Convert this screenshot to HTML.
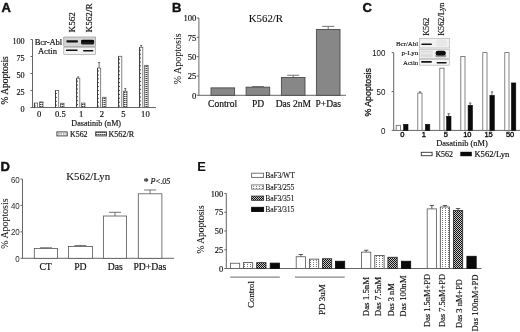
<!DOCTYPE html>
<html><head><meta charset="utf-8"><style>
html,body{margin:0;padding:0;background:#fff;}
body{width:520px;height:332px;overflow:hidden;font-family:"Liberation Serif",serif;}
svg{display:block;will-change:transform;filter:blur(0.3px);}
</style></head><body>
<svg width="520" height="332" viewBox="0 0 520 332">
<defs>
<pattern id="grid" width="2" height="2" patternUnits="userSpaceOnUse"><rect width="2" height="2" fill="#f4f4f4"/><rect width="2" height="1" fill="#999"/><rect width="1" height="1" fill="#444"/></pattern>
<pattern id="dots" width="3" height="2" patternUnits="userSpaceOnUse"><rect width="3" height="2" fill="#fff"/><rect x="1" width="1" height="1" fill="#777"/></pattern>
<pattern id="check" width="2" height="2" patternUnits="userSpaceOnUse"><rect width="2" height="2" fill="#c8c8c8"/><rect width="1" height="1" fill="#111"/><rect x="1" y="1" width="1" height="1" fill="#111"/></pattern>
</defs>
<rect width="520" height="332" fill="#fff"/>
<text x="1.4" y="11.8" font-family="Liberation Sans" font-size="13" text-anchor="start" font-weight="bold" font-style="normal" fill="#111" stroke="#111" stroke-width="0.45">A</text>
<line x1="32.5" y1="39.5" x2="32.5" y2="108.0" stroke="#666" stroke-width="1"/>
<line x1="32.5" y1="107.5" x2="156" y2="107.5" stroke="#666" stroke-width="1"/>
<line x1="30.5" y1="107.5" x2="32.5" y2="107.5" stroke="#666" stroke-width="1"/>
<text x="24.7" y="111.7" font-family="Liberation Serif" font-size="8.2" text-anchor="end" font-weight="normal" font-style="normal" fill="#111" stroke="#111" stroke-width="0.164">0</text>
<line x1="30.5" y1="90.5" x2="32.5" y2="90.5" stroke="#666" stroke-width="1"/>
<text x="24.7" y="94.7" font-family="Liberation Serif" font-size="8.2" text-anchor="end" font-weight="normal" font-style="normal" fill="#111" stroke="#111" stroke-width="0.164">25</text>
<line x1="30.5" y1="73.5" x2="32.5" y2="73.5" stroke="#666" stroke-width="1"/>
<text x="24.7" y="77.7" font-family="Liberation Serif" font-size="8.2" text-anchor="end" font-weight="normal" font-style="normal" fill="#111" stroke="#111" stroke-width="0.164">50</text>
<line x1="30.5" y1="56.5" x2="32.5" y2="56.5" stroke="#666" stroke-width="1"/>
<text x="24.7" y="60.7" font-family="Liberation Serif" font-size="8.2" text-anchor="end" font-weight="normal" font-style="normal" fill="#111" stroke="#111" stroke-width="0.164">75</text>
<line x1="30.5" y1="39.5" x2="32.5" y2="39.5" stroke="#666" stroke-width="1"/>
<text x="24.7" y="43.7" font-family="Liberation Serif" font-size="8.2" text-anchor="end" font-weight="normal" font-style="normal" fill="#111" stroke="#111" stroke-width="0.164">100</text>
<text x="7.6" y="104.5" font-family="Liberation Serif" font-size="9.5" text-anchor="start" font-weight="normal" font-style="normal" fill="#111" transform="rotate(-90 7.6 104.5)" stroke="#111" stroke-width="0.190">% Apoptosis</text>
<rect x="34.40" y="103.01" width="3.20" height="4.49" fill="#fff" stroke="#666" stroke-width="0.8" />
<line x1="34.4" y1="103.012" x2="34.4" y2="107.5" stroke="#333" stroke-width="0.9"/>
<line x1="35.199999999999996" y1="105.512" x2="35.199999999999996" y2="107.5" stroke="#222" stroke-width="1" stroke-dasharray="0.9 3"/>
<rect x="39.60" y="101.92" width="3.40" height="5.58" fill="url(#grid)" stroke="#555" stroke-width="0.8" />
<rect x="55.50" y="90.50" width="3.20" height="17.00" fill="#fff" stroke="#666" stroke-width="0.8" />
<line x1="55.5" y1="90.5" x2="55.5" y2="107.5" stroke="#333" stroke-width="0.9"/>
<line x1="56.3" y1="93.0" x2="56.3" y2="107.5" stroke="#222" stroke-width="1" stroke-dasharray="0.9 3"/>
<rect x="60.60" y="103.28" width="3.40" height="4.22" fill="url(#grid)" stroke="#555" stroke-width="0.8" />
<line x1="78.2" y1="76.9" x2="78.2" y2="78.26" stroke="#444" stroke-width="0.8"/>
<line x1="77.2" y1="76.9" x2="79.2" y2="76.9" stroke="#444" stroke-width="0.8"/>
<rect x="76.60" y="78.26" width="3.20" height="29.24" fill="#fff" stroke="#666" stroke-width="0.8" />
<line x1="76.60000000000001" y1="78.26" x2="76.60000000000001" y2="107.5" stroke="#333" stroke-width="0.9"/>
<line x1="77.4" y1="80.76" x2="77.4" y2="107.5" stroke="#222" stroke-width="1" stroke-dasharray="0.9 3"/>
<rect x="81.60" y="103.08" width="3.40" height="4.42" fill="url(#grid)" stroke="#555" stroke-width="0.8" />
<line x1="99.1" y1="62.62" x2="99.1" y2="68.06" stroke="#444" stroke-width="0.8"/>
<line x1="98.1" y1="62.62" x2="100.1" y2="62.62" stroke="#444" stroke-width="0.8"/>
<rect x="97.50" y="68.06" width="3.20" height="39.44" fill="#fff" stroke="#666" stroke-width="0.8" />
<line x1="97.5" y1="68.06" x2="97.5" y2="107.5" stroke="#333" stroke-width="0.9"/>
<line x1="98.3" y1="70.56" x2="98.3" y2="107.5" stroke="#222" stroke-width="1" stroke-dasharray="0.9 3"/>
<rect x="102.60" y="97.30" width="3.40" height="10.20" fill="url(#grid)" stroke="#555" stroke-width="0.8" />
<rect x="118.60" y="56.30" width="3.20" height="51.20" fill="#fff" stroke="#666" stroke-width="0.8" />
<line x1="118.60000000000001" y1="56.29600000000001" x2="118.60000000000001" y2="107.5" stroke="#333" stroke-width="0.9"/>
<line x1="119.4" y1="58.79600000000001" x2="119.4" y2="107.5" stroke="#222" stroke-width="1" stroke-dasharray="0.9 3"/>
<line x1="125.30000000000001" y1="88.46000000000001" x2="125.30000000000001" y2="91.18" stroke="#444" stroke-width="0.8"/>
<line x1="124.30000000000001" y1="88.46000000000001" x2="126.30000000000001" y2="88.46000000000001" stroke="#444" stroke-width="0.8"/>
<rect x="123.60" y="91.18" width="3.40" height="16.32" fill="url(#grid)" stroke="#555" stroke-width="0.8" />
<line x1="141.2" y1="45.416000000000004" x2="141.2" y2="47.32" stroke="#444" stroke-width="0.8"/>
<line x1="140.2" y1="45.416000000000004" x2="142.2" y2="45.416000000000004" stroke="#444" stroke-width="0.8"/>
<rect x="139.60" y="47.32" width="3.20" height="60.18" fill="#fff" stroke="#666" stroke-width="0.8" />
<line x1="139.6" y1="47.32" x2="139.6" y2="107.5" stroke="#333" stroke-width="0.9"/>
<line x1="140.4" y1="49.82" x2="140.4" y2="107.5" stroke="#222" stroke-width="1" stroke-dasharray="0.9 3"/>
<rect x="144.70" y="65.34" width="3.40" height="42.16" fill="url(#grid)" stroke="#555" stroke-width="0.8" />
<text x="39.2" y="117.3" font-family="Liberation Serif" font-size="8.6" text-anchor="middle" font-weight="normal" font-style="normal" fill="#111" stroke="#111" stroke-width="0.172">0</text>
<text x="60.4" y="117.3" font-family="Liberation Serif" font-size="8.6" text-anchor="middle" font-weight="normal" font-style="normal" fill="#111" stroke="#111" stroke-width="0.172">0.5</text>
<text x="81.2" y="117.3" font-family="Liberation Serif" font-size="8.6" text-anchor="middle" font-weight="normal" font-style="normal" fill="#111" stroke="#111" stroke-width="0.172">1</text>
<text x="101.8" y="117.3" font-family="Liberation Serif" font-size="8.6" text-anchor="middle" font-weight="normal" font-style="normal" fill="#111" stroke="#111" stroke-width="0.172">2</text>
<text x="123.3" y="117.3" font-family="Liberation Serif" font-size="8.6" text-anchor="middle" font-weight="normal" font-style="normal" fill="#111" stroke="#111" stroke-width="0.172">5</text>
<text x="145.4" y="117.3" font-family="Liberation Serif" font-size="8.6" text-anchor="middle" font-weight="normal" font-style="normal" fill="#111" stroke="#111" stroke-width="0.172">10</text>
<text x="96.2" y="125.8" font-family="Liberation Serif" font-size="8.1" text-anchor="middle" font-weight="normal" font-style="normal" fill="#111" stroke="#111" stroke-width="0.162">Dasatinib (nM)</text>
<rect x="56.90" y="131.90" width="10.30" height="4.00" fill="#fff" stroke="#333" stroke-width="0.9" />
<line x1="58" y1="133.9" x2="66.5" y2="133.9" stroke="#555" stroke-width="0.9" stroke-dasharray="1.5 1"/>
<text x="70.0" y="137.2" font-family="Liberation Serif" font-size="7.9" text-anchor="start" font-weight="normal" font-style="normal" fill="#111" stroke="#111" stroke-width="0.158">K562</text>
<rect x="95.70" y="131.90" width="10.70" height="4.00" fill="url(#grid)" stroke="#333" stroke-width="0.9" />
<text x="108.4" y="137.2" font-family="Liberation Serif" font-size="8.1" text-anchor="start" font-weight="normal" font-style="normal" fill="#111" stroke="#111" stroke-width="0.162">K562/R</text>
<rect x="63.80" y="37.00" width="31.80" height="9.40" fill="#d4d4d4" stroke="#888" stroke-width="0.6" />
<rect x="63.80" y="47.20" width="31.80" height="7.40" fill="#f2f2f2" stroke="#999" stroke-width="0.6" />
<rect x="66.3" y="40.3" width="11.7" height="2.2" rx="1" fill="#111"/>
<rect x="81" y="39.8" width="13.1" height="4.8" rx="1.5" fill="#1a1a1a"/>
<rect x="81.5" y="39.9" width="12.3" height="1.8" rx="0.8" fill="#050505"/>
<rect x="65.9" y="49.6" width="11.7" height="1.5" rx="0.7" fill="#111"/>
<rect x="83" y="50.1" width="10.4" height="1.4" rx="0.7" fill="#111"/>
<text x="62.0" y="45.1" font-family="Liberation Serif" font-size="8.6" text-anchor="end" font-weight="normal" font-style="normal" fill="#111" letter-spacing="-0.1" stroke="#111" stroke-width="0.172">Bcr-Abl</text>
<text x="57.0" y="54.2" font-family="Liberation Serif" font-size="8.6" text-anchor="end" font-weight="normal" font-style="normal" fill="#111" stroke="#111" stroke-width="0.172">Actin</text>
<text x="75.0" y="32.5" font-family="Liberation Serif" font-size="9.2" text-anchor="start" font-weight="normal" font-style="normal" fill="#111" transform="rotate(-90 75.0 32.5)" stroke="#111" stroke-width="0.184">K562</text>
<text x="91.8" y="32.5" font-family="Liberation Serif" font-size="9.2" text-anchor="start" font-weight="normal" font-style="normal" fill="#111" transform="rotate(-90 91.8 32.5)" stroke="#111" stroke-width="0.184">K562/R</text>
<text x="172.1" y="11.7" font-family="Liberation Sans" font-size="13" text-anchor="start" font-weight="bold" font-style="normal" fill="#111" stroke="#111" stroke-width="0.45">B</text>
<line x1="198.9" y1="18.0" x2="198.9" y2="95.8" stroke="#666" stroke-width="1"/>
<line x1="198.9" y1="95.3" x2="346" y2="95.3" stroke="#666" stroke-width="1"/>
<line x1="196.70000000000002" y1="95.3" x2="198.9" y2="95.3" stroke="#666" stroke-width="1"/>
<text x="196.4" y="98.6" font-family="Liberation Serif" font-size="8.6" text-anchor="end" font-weight="normal" font-style="normal" fill="#111" stroke="#111" stroke-width="0.172">0</text>
<line x1="196.70000000000002" y1="75.975" x2="198.9" y2="75.975" stroke="#666" stroke-width="1"/>
<text x="196.4" y="79.27499999999999" font-family="Liberation Serif" font-size="8.6" text-anchor="end" font-weight="normal" font-style="normal" fill="#111" stroke="#111" stroke-width="0.172">25</text>
<line x1="196.70000000000002" y1="56.65" x2="198.9" y2="56.65" stroke="#666" stroke-width="1"/>
<text x="196.4" y="59.949999999999996" font-family="Liberation Serif" font-size="8.6" text-anchor="end" font-weight="normal" font-style="normal" fill="#111" stroke="#111" stroke-width="0.172">50</text>
<line x1="196.70000000000002" y1="37.324999999999996" x2="198.9" y2="37.324999999999996" stroke="#666" stroke-width="1"/>
<text x="196.4" y="40.62499999999999" font-family="Liberation Serif" font-size="8.6" text-anchor="end" font-weight="normal" font-style="normal" fill="#111" stroke="#111" stroke-width="0.172">75</text>
<line x1="196.70000000000002" y1="18.0" x2="198.9" y2="18.0" stroke="#666" stroke-width="1"/>
<text x="196.4" y="21.3" font-family="Liberation Serif" font-size="8.6" text-anchor="end" font-weight="normal" font-style="normal" fill="#111" stroke="#111" stroke-width="0.172">100</text>
<text x="181.2" y="84.2" font-family="Liberation Serif" font-size="10.0" text-anchor="start" font-weight="normal" font-style="normal" fill="#111" transform="rotate(-90 181.2 84.2)" stroke="#111" stroke-width="0.050">% Apoptosis</text>
<text x="265.9" y="21.5" font-family="Liberation Serif" font-size="10.8" text-anchor="middle" font-weight="normal" font-style="normal" fill="#111" stroke="#111" stroke-width="0.108">K562/R</text>
<rect x="211.00" y="87.88" width="23.60" height="7.42" fill="#878787" stroke="#4a4a4a" stroke-width="0.9" />
<line x1="257.9" y1="86.5651" x2="257.9" y2="87.1835" stroke="#666" stroke-width="0.9"/>
<line x1="251.89999999999998" y1="86.5651" x2="263.9" y2="86.5651" stroke="#666" stroke-width="0.9"/>
<rect x="246.10" y="87.18" width="23.60" height="8.12" fill="#878787" stroke="#4a4a4a" stroke-width="0.9" />
<line x1="293.2" y1="75.2793" x2="293.2" y2="77.521" stroke="#666" stroke-width="0.9"/>
<line x1="287.2" y1="75.2793" x2="299.2" y2="75.2793" stroke="#666" stroke-width="0.9"/>
<rect x="281.40" y="77.52" width="23.60" height="17.78" fill="#878787" stroke="#4a4a4a" stroke-width="0.9" />
<line x1="328.2" y1="26.348399999999998" x2="328.2" y2="29.440399999999997" stroke="#666" stroke-width="0.9"/>
<line x1="322.2" y1="26.348399999999998" x2="334.2" y2="26.348399999999998" stroke="#666" stroke-width="0.9"/>
<rect x="316.40" y="29.44" width="23.60" height="65.86" fill="#878787" stroke="#4a4a4a" stroke-width="0.9" />
<text x="222.6" y="106.8" font-family="Liberation Serif" font-size="9.5" text-anchor="middle" font-weight="normal" font-style="normal" fill="#111" stroke="#111" stroke-width="0.190">Control</text>
<text x="258.0" y="106.8" font-family="Liberation Serif" font-size="9.5" text-anchor="middle" font-weight="normal" font-style="normal" fill="#111" stroke="#111" stroke-width="0.190">PD</text>
<text x="293.3" y="106.8" font-family="Liberation Serif" font-size="9.5" text-anchor="middle" font-weight="normal" font-style="normal" fill="#111" stroke="#111" stroke-width="0.190">Das 2nM</text>
<text x="328.2" y="106.8" font-family="Liberation Serif" font-size="9.5" text-anchor="middle" font-weight="normal" font-style="normal" fill="#111" stroke="#111" stroke-width="0.190">P+Das</text>
<text x="362.5" y="11.6" font-family="Liberation Sans" font-size="13" text-anchor="start" font-weight="bold" font-style="normal" fill="#111" stroke="#111" stroke-width="0.45">C</text>
<line x1="393.7" y1="52.6" x2="393.7" y2="130.9" stroke="#666" stroke-width="1"/>
<line x1="393.7" y1="130.4" x2="520" y2="130.4" stroke="#666" stroke-width="1"/>
<line x1="391.7" y1="130.4" x2="393.7" y2="130.4" stroke="#666" stroke-width="1"/>
<text x="0" y="0" font-family="Liberation Sans" font-size="8.6" text-anchor="end" font-weight="normal" font-style="normal" fill="#111" transform="translate(385.5 133.8) rotate(0) scale(0.93 1)">0</text>
<line x1="391.7" y1="91.5" x2="393.7" y2="91.5" stroke="#666" stroke-width="1"/>
<text x="0" y="0" font-family="Liberation Sans" font-size="8.6" text-anchor="end" font-weight="normal" font-style="normal" fill="#111" transform="translate(385.5 94.9) rotate(0) scale(0.93 1)">50</text>
<line x1="391.7" y1="52.599999999999994" x2="393.7" y2="52.599999999999994" stroke="#666" stroke-width="1"/>
<text x="0" y="0" font-family="Liberation Sans" font-size="8.6" text-anchor="end" font-weight="normal" font-style="normal" fill="#111" transform="translate(385.5 55.99999999999999) rotate(0) scale(0.93 1)">100</text>
<text x="0" y="0" font-family="Liberation Sans" font-size="9.6" text-anchor="start" font-weight="normal" font-style="normal" fill="#111" transform="translate(370.9 116.6) rotate(-90) scale(0.92 1)" stroke="#111" stroke-width="0.288">% Apoptosis</text>
<rect x="396.20" y="125.34" width="4.20" height="5.06" fill="#fff" stroke="#666" stroke-width="0.8" />
<line x1="419.90000000000003" y1="91.88900000000001" x2="419.90000000000003" y2="93.056" stroke="#444" stroke-width="0.8"/>
<line x1="418.7" y1="91.88900000000001" x2="421.1" y2="91.88900000000001" stroke="#444" stroke-width="0.8"/>
<rect x="417.80" y="93.06" width="4.20" height="37.34" fill="#fff" stroke="#666" stroke-width="0.8" />
<rect x="439.80" y="68.16" width="4.20" height="62.24" fill="#fff" stroke="#666" stroke-width="0.8" />
<rect x="460.80" y="56.49" width="4.20" height="73.91" fill="#fff" stroke="#666" stroke-width="0.8" />
<rect x="482.80" y="52.60" width="4.20" height="77.80" fill="#fff" stroke="#666" stroke-width="0.8" />
<rect x="504.80" y="52.60" width="4.20" height="77.80" fill="#fff" stroke="#666" stroke-width="0.8" />
<rect x="403.60" y="124.33" width="4.40" height="6.07" fill="#0a0a0a" stroke="#0a0a0a" stroke-width="0.6" />
<rect x="425.40" y="124.33" width="4.40" height="6.07" fill="#0a0a0a" stroke="#0a0a0a" stroke-width="0.6" />
<line x1="448.70000000000005" y1="113.673" x2="448.70000000000005" y2="116.24040000000001" stroke="#444" stroke-width="0.8"/>
<line x1="447.5" y1="113.673" x2="449.90000000000003" y2="113.673" stroke="#444" stroke-width="0.8"/>
<rect x="446.60" y="116.24" width="4.40" height="14.16" fill="#0a0a0a" stroke="#0a0a0a" stroke-width="0.6" />
<line x1="470.20000000000005" y1="103.0144" x2="470.20000000000005" y2="105.2706" stroke="#444" stroke-width="0.8"/>
<line x1="469.0" y1="103.0144" x2="471.40000000000003" y2="103.0144" stroke="#444" stroke-width="0.8"/>
<rect x="468.10" y="105.27" width="4.40" height="25.13" fill="#0a0a0a" stroke="#0a0a0a" stroke-width="0.6" />
<line x1="492.0" y1="91.88900000000001" x2="492.0" y2="95.39" stroke="#444" stroke-width="0.8"/>
<line x1="490.79999999999995" y1="91.88900000000001" x2="493.2" y2="91.88900000000001" stroke="#444" stroke-width="0.8"/>
<rect x="489.90" y="95.39" width="4.40" height="35.01" fill="#0a0a0a" stroke="#0a0a0a" stroke-width="0.6" />
<rect x="511.40" y="82.94" width="4.40" height="47.46" fill="#0a0a0a" stroke="#0a0a0a" stroke-width="0.6" />
<text x="402.4" y="136.8" font-family="Liberation Sans" font-size="7.5" text-anchor="middle" font-weight="normal" font-style="normal" fill="#111" stroke="#111" stroke-width="0.375">0</text>
<text x="423.9" y="136.8" font-family="Liberation Sans" font-size="7.5" text-anchor="middle" font-weight="normal" font-style="normal" fill="#111" stroke="#111" stroke-width="0.375">1</text>
<text x="445.9" y="136.8" font-family="Liberation Sans" font-size="7.5" text-anchor="middle" font-weight="normal" font-style="normal" fill="#111" stroke="#111" stroke-width="0.375">5</text>
<text x="467.3" y="136.8" font-family="Liberation Sans" font-size="7.5" text-anchor="middle" font-weight="normal" font-style="normal" fill="#111" stroke="#111" stroke-width="0.375">10</text>
<text x="488.6" y="136.8" font-family="Liberation Sans" font-size="7.5" text-anchor="middle" font-weight="normal" font-style="normal" fill="#111" stroke="#111" stroke-width="0.375">15</text>
<text x="510.1" y="136.8" font-family="Liberation Sans" font-size="7.5" text-anchor="middle" font-weight="normal" font-style="normal" fill="#111" stroke="#111" stroke-width="0.375">50</text>
<text x="462.0" y="146.0" font-family="Liberation Serif" font-size="8.4" text-anchor="middle" font-weight="normal" font-style="normal" fill="#111" stroke="#111" stroke-width="0.168">Dasatinib (nM)</text>
<rect x="421.30" y="152.30" width="10.80" height="3.40" fill="#fff" stroke="#333" stroke-width="0.9" />
<text x="435.4" y="156.5" font-family="Liberation Serif" font-size="7.9" text-anchor="start" font-weight="normal" font-style="normal" fill="#111" stroke="#111" stroke-width="0.158">K562</text>
<rect x="460.30" y="151.80" width="11.50" height="4.40" fill="#0a0a0a" stroke="none" stroke-width="1" />
<text x="474.4" y="156.8" font-family="Liberation Serif" font-size="8.6" text-anchor="start" font-weight="normal" font-style="normal" fill="#111" stroke="#111" stroke-width="0.172">K562/Lyn</text>
<rect x="419.40" y="38.40" width="30.00" height="9.60" fill="#f2f2f2" stroke="#aaa" stroke-width="0.6" />
<rect x="419.40" y="49.20" width="30.00" height="9.20" fill="#efefef" stroke="#aaa" stroke-width="0.6" />
<rect x="419.40" y="59.40" width="30.00" height="5.80" fill="#f6f6f6" stroke="#aaa" stroke-width="0.6" />
<rect x="421.3" y="43.5" width="10.6" height="1.6" rx="0.7" fill="#151515"/>
<rect x="436" y="39.5" width="11" height="7" rx="2.5" fill="#e8e8e8"/>
<rect x="420.6" y="50.8" width="12" height="6.4" rx="1.5" fill="#dcdcdc"/>
<rect x="421" y="52.6" width="10.6" height="1.4" rx="0.7" fill="#ececec"/>
<rect x="435.4" y="54.6" width="10.8" height="2.6" rx="1" fill="#9a9a9a"/>
<rect x="435.6" y="50.8" width="10.2" height="4.6" rx="2.2" fill="#0e0e0e"/>
<rect x="421.1" y="61.1" width="10.8" height="1.6" rx="0.7" fill="#151515"/>
<rect x="436.6" y="61.9" width="10.1" height="1.5" rx="0.7" fill="#151515"/>
<text x="418.2" y="45.6" font-family="Liberation Serif" font-size="6.9" text-anchor="end" font-weight="normal" font-style="normal" fill="#111" stroke="#111" stroke-width="0.138">Bcr/Abl</text>
<text x="418.2" y="55.4" font-family="Liberation Serif" font-size="7.0" text-anchor="end" font-weight="normal" font-style="normal" fill="#111" stroke="#111" stroke-width="0.140">p-Lyn</text>
<text x="418.2" y="64.9" font-family="Liberation Serif" font-size="6.8" text-anchor="end" font-weight="normal" font-style="normal" fill="#111" stroke="#111" stroke-width="0.136">Actin</text>
<text x="428.9" y="35.8" font-family="Liberation Serif" font-size="8.2" text-anchor="start" font-weight="normal" font-style="normal" fill="#111" transform="rotate(-90 428.9 35.8)" stroke="#111" stroke-width="0.164">K562</text>
<text x="444.3" y="35.8" font-family="Liberation Serif" font-size="8.2" text-anchor="start" font-weight="normal" font-style="normal" fill="#111" transform="rotate(-90 444.3 35.8)" stroke="#111" stroke-width="0.164">K562/Lyn</text>
<text x="0.5" y="171.2" font-family="Liberation Sans" font-size="13" text-anchor="start" font-weight="bold" font-style="normal" fill="#111" stroke="#111" stroke-width="0.45">D</text>
<line x1="22.5" y1="179.0" x2="22.5" y2="258.8" stroke="#666" stroke-width="1"/>
<line x1="22.5" y1="258.3" x2="174" y2="258.3" stroke="#666" stroke-width="1"/>
<line x1="20.5" y1="258.3" x2="22.5" y2="258.3" stroke="#666" stroke-width="1"/>
<text x="0" y="0" font-family="Liberation Sans" font-size="8.4" text-anchor="end" font-weight="normal" font-style="normal" fill="#2a2a2a" transform="translate(19.8 261.8) rotate(0) scale(0.95 1)">0</text>
<line x1="20.5" y1="231.86666666666667" x2="22.5" y2="231.86666666666667" stroke="#666" stroke-width="1"/>
<text x="0" y="0" font-family="Liberation Sans" font-size="8.4" text-anchor="end" font-weight="normal" font-style="normal" fill="#2a2a2a" transform="translate(19.8 235.36666666666667) rotate(0) scale(0.95 1)">20</text>
<line x1="20.5" y1="205.43333333333334" x2="22.5" y2="205.43333333333334" stroke="#666" stroke-width="1"/>
<text x="0" y="0" font-family="Liberation Sans" font-size="8.4" text-anchor="end" font-weight="normal" font-style="normal" fill="#2a2a2a" transform="translate(19.8 208.93333333333334) rotate(0) scale(0.95 1)">40</text>
<line x1="20.5" y1="179.0" x2="22.5" y2="179.0" stroke="#666" stroke-width="1"/>
<text x="0" y="0" font-family="Liberation Sans" font-size="8.4" text-anchor="end" font-weight="normal" font-style="normal" fill="#2a2a2a" transform="translate(19.8 182.5) rotate(0) scale(0.95 1)">60</text>
<text x="7.6" y="248.7" font-family="Liberation Serif" font-size="9.9" text-anchor="start" font-weight="normal" font-style="normal" fill="#111" transform="rotate(-90 7.6 248.7)" stroke="#111" stroke-width="0.050">% Apoptosis</text>
<text x="88.2" y="179.8" font-family="Liberation Serif" font-size="10.8" text-anchor="middle" font-weight="normal" font-style="normal" fill="#111" stroke="#111" stroke-width="0.108">K562/Lyn</text>
<line x1="45.9" y1="247.7266666666667" x2="45.9" y2="248.51966666666667" stroke="#555" stroke-width="0.8"/>
<line x1="39.9" y1="247.7266666666667" x2="51.9" y2="247.7266666666667" stroke="#555" stroke-width="0.8"/>
<rect x="34.30" y="248.52" width="23.20" height="9.78" fill="#fff" stroke="#555" stroke-width="0.8" />
<line x1="80.4" y1="245.47983333333335" x2="80.4" y2="246.405" stroke="#555" stroke-width="0.8"/>
<line x1="74.4" y1="245.47983333333335" x2="86.4" y2="245.47983333333335" stroke="#555" stroke-width="0.8"/>
<rect x="68.40" y="246.41" width="24.00" height="11.90" fill="#fff" stroke="#555" stroke-width="0.8" />
<line x1="115.0" y1="212.306" x2="115.0" y2="216.00666666666666" stroke="#555" stroke-width="0.8"/>
<line x1="109.0" y1="212.306" x2="121.0" y2="212.306" stroke="#555" stroke-width="0.8"/>
<rect x="103.40" y="216.01" width="23.20" height="42.29" fill="#fff" stroke="#555" stroke-width="0.8" />
<line x1="150.10000000000002" y1="189.96983333333333" x2="150.10000000000002" y2="193.80266666666668" stroke="#555" stroke-width="0.8"/>
<line x1="144.10000000000002" y1="189.96983333333333" x2="156.10000000000002" y2="189.96983333333333" stroke="#555" stroke-width="0.8"/>
<rect x="138.30" y="193.80" width="23.60" height="64.50" fill="#fff" stroke="#555" stroke-width="0.8" />
<text x="45.6" y="270.0" font-family="Liberation Serif" font-size="9.7" text-anchor="middle" font-weight="normal" font-style="normal" fill="#111" stroke="#111" stroke-width="0.194">CT</text>
<text x="80.4" y="270.0" font-family="Liberation Serif" font-size="9.7" text-anchor="middle" font-weight="normal" font-style="normal" fill="#111" stroke="#111" stroke-width="0.194">PD</text>
<text x="115.2" y="270.0" font-family="Liberation Serif" font-size="9.7" text-anchor="middle" font-weight="normal" font-style="normal" fill="#111" stroke="#111" stroke-width="0.194">Das</text>
<text x="149.9" y="270.0" font-family="Liberation Serif" font-size="9.7" text-anchor="middle" font-weight="normal" font-style="normal" fill="#111" stroke="#111" stroke-width="0.194">PD+Das</text>
<text x="143.6" y="184.6" font-family="Liberation Serif" font-size="10.5" text-anchor="start" font-weight="bold" font-style="normal" fill="#111">*</text>
<text x="150.4" y="184.2" font-family="Liberation Serif" font-size="8.1" text-anchor="start" font-weight="normal" font-style="italic" fill="#111" letter-spacing="-0.15" stroke="#111" stroke-width="0.162">P&lt;.05</text>
<text x="197.2" y="171.2" font-family="Liberation Sans" font-size="12.9" text-anchor="start" font-weight="bold" font-style="normal" fill="#111">E</text>
<line x1="226.3" y1="193.5" x2="226.3" y2="269.0" stroke="#666" stroke-width="1"/>
<line x1="226.3" y1="268.5" x2="481.6" y2="268.5" stroke="#666" stroke-width="1"/>
<line x1="224.3" y1="268.5" x2="226.3" y2="268.5" stroke="#666" stroke-width="1"/>
<text x="223.2" y="271.5" font-family="Liberation Serif" font-size="8.4" text-anchor="end" font-weight="normal" font-style="normal" fill="#111" stroke="#111" stroke-width="0.168">0</text>
<line x1="224.3" y1="249.75" x2="226.3" y2="249.75" stroke="#666" stroke-width="1"/>
<text x="223.2" y="252.75" font-family="Liberation Serif" font-size="8.4" text-anchor="end" font-weight="normal" font-style="normal" fill="#111" stroke="#111" stroke-width="0.168">25</text>
<line x1="224.3" y1="231.0" x2="226.3" y2="231.0" stroke="#666" stroke-width="1"/>
<text x="223.2" y="234.0" font-family="Liberation Serif" font-size="8.4" text-anchor="end" font-weight="normal" font-style="normal" fill="#111" stroke="#111" stroke-width="0.168">50</text>
<line x1="224.3" y1="212.25" x2="226.3" y2="212.25" stroke="#666" stroke-width="1"/>
<text x="223.2" y="215.25" font-family="Liberation Serif" font-size="8.4" text-anchor="end" font-weight="normal" font-style="normal" fill="#111" stroke="#111" stroke-width="0.168">75</text>
<line x1="224.3" y1="193.5" x2="226.3" y2="193.5" stroke="#666" stroke-width="1"/>
<text x="223.2" y="196.5" font-family="Liberation Serif" font-size="8.4" text-anchor="end" font-weight="normal" font-style="normal" fill="#111" stroke="#111" stroke-width="0.168">100</text>
<text x="203.6" y="253.6" font-family="Liberation Serif" font-size="9.5" text-anchor="start" font-weight="normal" font-style="normal" fill="#111" transform="rotate(-90 203.6 253.6)" stroke="#111" stroke-width="0.095">% Apoptosis</text>
<rect x="230.40" y="263.25" width="9.30" height="5.25" fill="#fff" stroke="#555" stroke-width="0.8" />
<rect x="243.40" y="262.65" width="9.30" height="5.85" fill="url(#dots)" stroke="#444" stroke-width="0.8" />
<rect x="256.70" y="262.65" width="9.30" height="5.85" fill="url(#check)" stroke="#222" stroke-width="0.8" />
<rect x="270.20" y="263.10" width="9.30" height="5.40" fill="#0a0a0a" stroke="#0a0a0a" stroke-width="0.8" />
<line x1="300.84999999999997" y1="254.475" x2="300.84999999999997" y2="256.725" stroke="#333" stroke-width="0.8"/>
<line x1="298.65" y1="254.475" x2="303.04999999999995" y2="254.475" stroke="#333" stroke-width="0.8"/>
<rect x="296.20" y="256.73" width="9.30" height="11.77" fill="#fff" stroke="#555" stroke-width="0.8" />
<rect x="309.40" y="259.12" width="9.30" height="9.38" fill="url(#dots)" stroke="#444" stroke-width="0.8" />
<rect x="322.40" y="258.75" width="9.30" height="9.75" fill="url(#check)" stroke="#222" stroke-width="0.8" />
<rect x="335.40" y="261.23" width="9.30" height="7.27" fill="#0a0a0a" stroke="#0a0a0a" stroke-width="0.8" />
<line x1="366.15" y1="250.275" x2="366.15" y2="252.15" stroke="#333" stroke-width="0.8"/>
<line x1="363.95" y1="250.275" x2="368.34999999999997" y2="250.275" stroke="#333" stroke-width="0.8"/>
<rect x="361.50" y="252.15" width="9.30" height="16.35" fill="#fff" stroke="#555" stroke-width="0.8" />
<rect x="374.80" y="255.53" width="9.30" height="12.97" fill="url(#dots)" stroke="#444" stroke-width="0.8" />
<rect x="387.90" y="257.25" width="9.30" height="11.25" fill="url(#check)" stroke="#222" stroke-width="0.8" />
<rect x="401.40" y="261.23" width="9.30" height="7.27" fill="#0a0a0a" stroke="#0a0a0a" stroke-width="0.8" />
<line x1="431.84999999999997" y1="205.5" x2="431.84999999999997" y2="208.875" stroke="#333" stroke-width="0.8"/>
<line x1="429.65" y1="205.5" x2="434.04999999999995" y2="205.5" stroke="#333" stroke-width="0.8"/>
<rect x="427.20" y="208.88" width="9.30" height="59.62" fill="#fff" stroke="#555" stroke-width="0.8" />
<line x1="444.95" y1="205.5" x2="444.95" y2="207.0" stroke="#333" stroke-width="0.8"/>
<line x1="442.75" y1="205.5" x2="447.15" y2="205.5" stroke="#333" stroke-width="0.8"/>
<rect x="440.30" y="207.00" width="9.30" height="61.50" fill="url(#dots)" stroke="#444" stroke-width="0.8" />
<line x1="458.04999999999995" y1="208.5" x2="458.04999999999995" y2="210.375" stroke="#333" stroke-width="0.8"/>
<line x1="455.84999999999997" y1="208.5" x2="460.24999999999994" y2="208.5" stroke="#333" stroke-width="0.8"/>
<rect x="453.40" y="210.38" width="9.30" height="58.12" fill="url(#check)" stroke="#222" stroke-width="0.8" />
<rect x="466.90" y="256.27" width="9.30" height="12.23" fill="#0a0a0a" stroke="#0a0a0a" stroke-width="0.8" />
<line x1="230.2" y1="277.2" x2="279.8" y2="277.2" stroke="#888" stroke-width="1.3"/>
<line x1="295.0" y1="277.2" x2="344.7" y2="277.2" stroke="#888" stroke-width="1.3"/>
<rect x="251.60" y="173.20" width="12.00" height="4.20" fill="#fff" stroke="#666" stroke-width="0.9" />
<text x="265.3" y="177.9" font-family="Liberation Serif" font-size="7.7" text-anchor="start" font-weight="normal" font-style="normal" fill="#111" letter-spacing="-0.2" stroke="#111" stroke-width="0.092">BaF3/WT</text>
<rect x="251.60" y="184.90" width="12.00" height="4.20" fill="url(#dots)" stroke="#777" stroke-width="0.9" />
<text x="265.3" y="189.6" font-family="Liberation Serif" font-size="7.7" text-anchor="start" font-weight="normal" font-style="normal" fill="#111" letter-spacing="-0.2" stroke="#111" stroke-width="0.092">BaF3/255</text>
<rect x="251.60" y="196.10" width="12.00" height="4.20" fill="url(#check)" stroke="#333" stroke-width="0.9" />
<text x="265.3" y="200.79999999999998" font-family="Liberation Serif" font-size="7.7" text-anchor="start" font-weight="normal" font-style="normal" fill="#111" letter-spacing="-0.2" stroke="#111" stroke-width="0.092">BaF3/351</text>
<rect x="251.60" y="207.30" width="12.00" height="4.20" fill="#0a0a0a" stroke="#0a0a0a" stroke-width="0.9" />
<text x="265.3" y="212.0" font-family="Liberation Serif" font-size="7.7" text-anchor="start" font-weight="normal" font-style="normal" fill="#111" letter-spacing="-0.2" stroke="#111" stroke-width="0.092">BaF3/315</text>
<text x="254.2" y="307.7" font-family="Liberation Serif" font-size="8.7" text-anchor="start" font-weight="normal" font-style="normal" fill="#111" transform="rotate(-90 254.2 307.7)" stroke="#111" stroke-width="0.174">Control</text>
<text x="324.8" y="315.0" font-family="Liberation Serif" font-size="9.0" text-anchor="start" font-weight="normal" font-style="normal" fill="#111" transform="rotate(-90 324.8 315.0)" stroke="#111" stroke-width="0.180">PD 3uM</text>
<text x="368.8" y="316.2" font-family="Liberation Serif" font-size="8.85" text-anchor="start" font-weight="normal" font-style="normal" fill="#111" transform="rotate(-90 368.8 316.2)" stroke="#111" stroke-width="0.177">Das 1.5nM</text>
<text x="381.4" y="316.2" font-family="Liberation Serif" font-size="8.9" text-anchor="start" font-weight="normal" font-style="normal" fill="#111" transform="rotate(-90 381.4 316.2)" stroke="#111" stroke-width="0.178">Das 7.5nM</text>
<text x="394.2" y="316.2" font-family="Liberation Serif" font-size="8.3" text-anchor="start" font-weight="normal" font-style="normal" fill="#111" transform="rotate(-90 394.2 316.2)" stroke="#111" stroke-width="0.166">Das 3 nM</text>
<text x="406.3" y="316.7" font-family="Liberation Serif" font-size="8.8" text-anchor="start" font-weight="normal" font-style="normal" fill="#111" transform="rotate(-90 406.3 316.7)" stroke="#111" stroke-width="0.176">Das 100nM</text>
<text x="429.6" y="327.0" font-family="Liberation Serif" font-size="8.45" text-anchor="start" font-weight="normal" font-style="normal" fill="#111" transform="rotate(-90 429.6 327.0)" stroke="#111" stroke-width="0.169">Das 1.5nM+PD</text>
<text x="444.5" y="327.0" font-family="Liberation Serif" font-size="8.45" text-anchor="start" font-weight="normal" font-style="normal" fill="#111" transform="rotate(-90 444.5 327.0)" stroke="#111" stroke-width="0.169">Das 7.5nM+PD</text>
<text x="461.6" y="327.9" font-family="Liberation Serif" font-size="8.45" text-anchor="start" font-weight="normal" font-style="normal" fill="#111" transform="rotate(-90 461.6 327.9)" stroke="#111" stroke-width="0.169">Das 3 nM+PD</text>
<text x="477.8" y="331.5" font-family="Liberation Serif" font-size="8.75" text-anchor="start" font-weight="normal" font-style="normal" fill="#111" transform="rotate(-90 477.8 331.5)" stroke="#111" stroke-width="0.175">Das 100nM+PD</text>
</svg>
</body></html>
